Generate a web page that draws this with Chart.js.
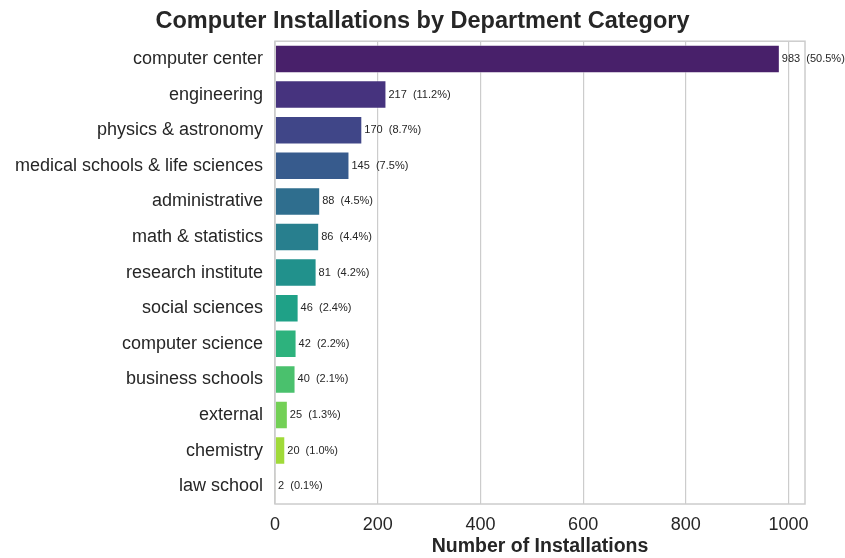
<!DOCTYPE html>
<html>
<head>
<meta charset="utf-8">
<script src="https://cdn.jsdelivr.net/npm/chart.js@4/dist/chart.umd.min.js"></script>
<style>
  html, body { margin: 0; padding: 0; background: #fff; }
  #wrap { width: 845px; height: 558px; }
</style>
</head>
<body>
<div id="wrap"><canvas id="chart_departments"></canvas></div>
<script>
var categories = [
    'computer center', 'engineering', 'physics & astronomy', 'medical schools & life sciences',
    'administrative', 'math & statistics', 'research institute', 'social sciences',
    'computer science', 'business schools', 'external', 'chemistry', 'law school'
];
var installations = [983, 217, 170, 145, 88, 86, 81, 46, 42, 40, 25, 20, 2];
var barColors = [
    '#48206a', '#46337e', '#404688', '#375b8d', '#2f6e8e', '#287f8e',
    '#21918c', '#1fa187', '#2db27d', '#4ac16d', '#73d056', '#a0da39', '#d0e11c'
];
var xTicks = [0, 200, 400, 600, 800, 1000];

var total = installations.reduce(function (a, b) { return a + b; }, 0);
var textColor = '#262626';
var gridColor = '#cccccc';
var fontFamily = 'Liberation Sans, Arial, sans-serif';

var chart_departments = new Chart(document.getElementById('chart_departments'), {
    type: 'bar',
    data: {
        labels: categories,
        datasets: [
            {
                label: 'Number of Installations',
                data: installations,
                backgroundColor: barColors,
                borderColor: 'rgba(255,255,255,0.5)',
                borderWidth: 1,
                barPercentage: 0.8,
                categoryPercentage: 1.0
            }
        ]
    },
    options: {
        indexAxis: 'y',
        animation: false,
        responsive: true,
        maintainAspectRatio: false,
        layout: {
            padding: 0
        },
        plugins: {
            legend: { display: false },
            tooltip: { enabled: false },
            title: {
                display: true,
                text: 'Computer Installations by Department Category',
                color: textColor,
                font: { family: fontFamily, size: 23.5, weight: 'bold' },
                padding: { top: 7, bottom: 6 }
            }
        },
        scales: {
            x: {
                type: 'linear',
                min: 0,
                max: 1032,
                afterBuildTicks: function (scale) {
                    scale.ticks = xTicks.map(function (v) { return { value: v }; });
                },
                afterFit: function (scale) { scale.height = 54; },
                grid: {
                    color: gridColor,
                    lineWidth: 1.2,
                    drawTicks: false
                },
                border: { display: false },
                ticks: {
                    color: textColor,
                    padding: 10,
                    font: { family: fontFamily, size: 18 },
                    callback: function (value) { return String(value); }
                },
                title: {
                    display: true,
                    text: 'Number of Installations',
                    color: textColor,
                    padding: { top: 0, bottom: 0 },
                    font: { family: fontFamily, size: 19.5, weight: 'bold' }
                }
            },
            y: {
                afterFit: function (scale) { scale.width = 275; },
                grid: { display: false, drawTicks: false },
                border: { display: false },
                ticks: {
                    color: textColor,
                    padding: 12,
                    font: { family: fontFamily, size: 18 }
                }
            },
            // empty right-hand axis, only to leave room for the value labels
            yRight: {
                type: 'category',
                position: 'right',
                afterFit: function (scale) { scale.width = 40; },
                grid: { display: false, drawTicks: false },
                border: { display: false },
                ticks: { display: false }
            }
        }
    },
    plugins: [{
        id: 'frameAndLabels',
        beforeDraw: function (chart) {
            var ctx = chart.ctx;
            ctx.save();
            ctx.fillStyle = 'white';
            ctx.fillRect(0, 0, chart.width, chart.height);
            ctx.restore();
        },
        afterDatasetsDraw: function (chart) {
            var ctx = chart.ctx;
            var area = chart.chartArea;
            ctx.save();
            ctx.strokeStyle = gridColor;
            ctx.lineWidth = 1.5;
            ctx.strokeRect(area.left, area.top, area.right - area.left, area.bottom - area.top);

            var meta = chart.getDatasetMeta(0);
            ctx.fillStyle = textColor;
            ctx.font = '11px "Liberation Sans", Arial, sans-serif';
            ctx.textAlign = 'left';
            ctx.textBaseline = 'middle';
            meta.data.forEach(function (bar, i) {
                var v = installations[i];
                var pct = (v / total * 100).toFixed(1);
                ctx.fillText(v + '  (' + pct + '%)', bar.x + 2, bar.y);
            });
            ctx.restore();
        }
    }]
});
</script>
</body>
</html>
